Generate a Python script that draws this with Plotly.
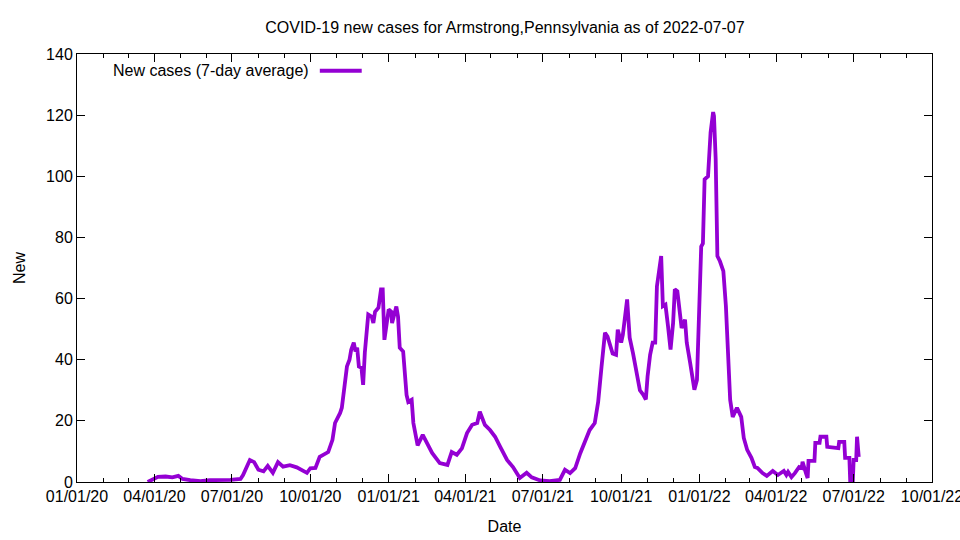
import pandas as pd
import plotly.graph_objects as go

title_text = "COVID-19 new cases for Armstrong,Pennsylvania as of 2022-07-07"
series_name = "New cases (7-day average)"
x_label = "Date"
y_label = "New"

start_date = "2020-01-01"
# days since 2020-01-01
day_offset = [
    83, 88, 95, 104, 112, 119, 124, 133, 145, 156, 168, 180, 192, 195, 201, 203, 208, 213,
    219, 224, 230, 236, 242, 250, 258, 266, 270, 274, 280, 285, 295, 300, 303, 309, 311, 314,
    317, 320, 322, 325, 327, 329, 331, 334, 336, 338, 340, 342, 346, 348, 350, 354, 357, 359,
    361, 363, 366, 369, 370, 373, 375, 377, 379, 383, 385, 387, 389, 393, 395, 400, 406, 411,
    417, 426, 435, 440, 446, 452, 458, 464, 470, 473, 479, 485, 491, 497, 505, 512, 520, 528,
    534, 544, 555, 567, 573, 579, 585, 591, 596, 602, 608, 612, 616, 620, 623, 626, 629, 633,
    635, 639, 641, 646, 649, 653, 657, 661, 665, 668, 670, 673, 676, 679, 681, 684, 686, 688,
    691, 694, 697, 700, 702, 705, 707, 710, 714, 716, 720, 723, 725, 728, 731, 733, 735, 737,
    741, 744, 747, 748, 750, 752, 755, 759, 762, 765, 767, 770, 775, 780, 783, 787, 792, 796,
    799, 805, 810, 817, 823, 830, 833, 835, 839, 843, 848, 851, 852, 856, 858, 859, 866, 867,
    872, 873, 880, 881, 890, 894, 895, 901, 902, 907, 908, 911, 912, 915, 916, 918,
]
new_cases = [
    0, 0.8, 1.7, 1.8, 1.5, 2.0, 1.0, 0.6, 0.3, 0.6, 0.5, 0.7, 1.0, 2.3, 6.0, 7.2, 6.5, 4.0,
    3.5, 5.3, 3.0, 6.5, 5.0, 5.5, 4.8, 3.5, 3.0, 4.5, 4.6, 8.2, 9.8, 13.8, 19.3, 22.6, 24.3, 31,
    37.8, 40, 43.3, 45.6, 42.7, 43.9, 37.8, 37.4, 31.8, 42.3, 47.6, 54.8, 54.1, 52, 55.7, 57, 63, 63,
    46.5, 49.8, 56.4, 55.7, 52, 55.3, 57.4, 54.1, 43.9, 42.7, 33.4, 28.5, 26.2, 26.9, 19.3, 12, 15.4, 12.8,
    9.5, 6.2, 5.6, 9.8, 8.9, 11, 16, 18.7, 19.3, 23, 18.7, 17, 14.8, 11.5, 7.2, 4.9, 1.3, 3,
    1.5, 0.5, 0.3, 0.7, 4, 2.9, 4.5, 9.4, 12.7, 17, 19.3, 26.2, 37.8, 48.8, 47.6, 44.3, 42, 41.6,
    49.8, 45.6, 48.2, 59.7, 47.2, 42, 35.7, 30, 28.5, 27, 34.5, 41.6, 45.6, 45.6, 64, 69.5, 73.9, 57.5,
    58, 51, 43.3, 52, 63, 62.4, 56.4, 50.4, 53.1, 45.6, 39, 34.5, 30.2, 33.4, 57.5, 77, 78, 99,
    100, 114.3, 121, 119.7, 105.6, 73.9, 72.2, 69, 57.5, 35.7, 26.9, 21.3, 24.3, 21.3, 14.4, 10.5, 7.9, 4.9,
    4.6, 2.9, 2.0, 3.6, 2.3, 3.6, 2.3, 3.3, 1.6, 2.9, 4.9, 4.6, 6.6, 2.9, 1.3, 6.9, 6.9, 12.8,
    12.8, 14.8, 14.8, 11.5, 11.1, 11.1, 13.1, 13.1, 7.9, 7.9, 0, 0, 7.2, 7.2, 14.8, 8.2,
]

x_range = ["2020-01-01", "2022-10-01 00:30"]
y_range = [0, 140]
x_tick_dates = ["2020-01-01", "2020-04-01", "2020-07-01", "2020-10-01", "2021-01-01", "2021-04-01",
                "2021-07-01", "2021-10-01", "2022-01-01", "2022-04-01", "2022-07-01", "2022-10-01"]
x_tick_labels = ["01/01/20", "04/01/20", "07/01/20", "10/01/20", "01/01/21", "04/01/21",
                 "07/01/21", "10/01/21", "01/01/22", "04/01/22", "07/01/22", "10/01/22"]

dates = pd.Timestamp(start_date) + pd.to_timedelta(day_offset, unit="D")

LINE_COLOR = "#9400D3"
FONT = "Liberation Sans, Arial, sans-serif"
FS = 16

fig = go.Figure()
fig.add_trace(go.Scatter(
    x=dates, y=new_cases, mode="lines", name=series_name,
    line=dict(color=LINE_COLOR, width=3.8), showlegend=False,
))

fig.update_layout(
    width=960, height=540,
    margin=dict(l=77, r=28, t=54, b=58, autoexpand=False),
    paper_bgcolor="white", plot_bgcolor="white",
    font=dict(family=FONT, size=FS, color="black"),
    title=dict(text=title_text, x=0.526, xanchor="center", y=0.95, yanchor="middle",
               font=dict(size=FS)),
)
fig.update_xaxes(
    range=x_range, tickmode="array", tickvals=x_tick_dates, ticktext=x_tick_labels,
    ticks="inside", ticklen=8, tickwidth=1, tickcolor="black", tickfont=dict(size=FS),
    ticklabeloverflow="allow",
    showline=True, linecolor="black", linewidth=1, mirror="allticks",
    showgrid=False, zeroline=False, automargin=False,
    minor=dict(dtick="M1", tick0="2020-01-01", ticks="inside", ticklen=4, tickcolor="black", showgrid=False),
    title=dict(text=x_label, standoff=16, font=dict(size=FS)),
)
fig.update_yaxes(
    range=y_range, dtick=20, tick0=0,
    ticks="inside", ticklen=8, tickwidth=1, tickcolor="black", tickfont=dict(size=FS),
    showline=True, linecolor="black", linewidth=1, mirror="allticks",
    showgrid=False, zeroline=False, automargin=False,
    title=dict(text=y_label, standoff=16, font=dict(size=FS)),
)

# legend key in gnuplot style (text to the left of the sample line)
fig.add_annotation(x=0.274, y=0.961, xref="paper", yref="paper", text=series_name,
                   showarrow=False, xanchor="right", yanchor="middle", font=dict(size=FS))
fig.add_shape(type="line", xref="paper", yref="paper", x0=0.284, x1=0.333, y0=0.961, y1=0.961,
              line=dict(color=LINE_COLOR, width=4))

fig.write_html("out.html", config={"displayModeBar": False},
               post_script="document.body.style.margin='0';document.body.style.padding='0';")
